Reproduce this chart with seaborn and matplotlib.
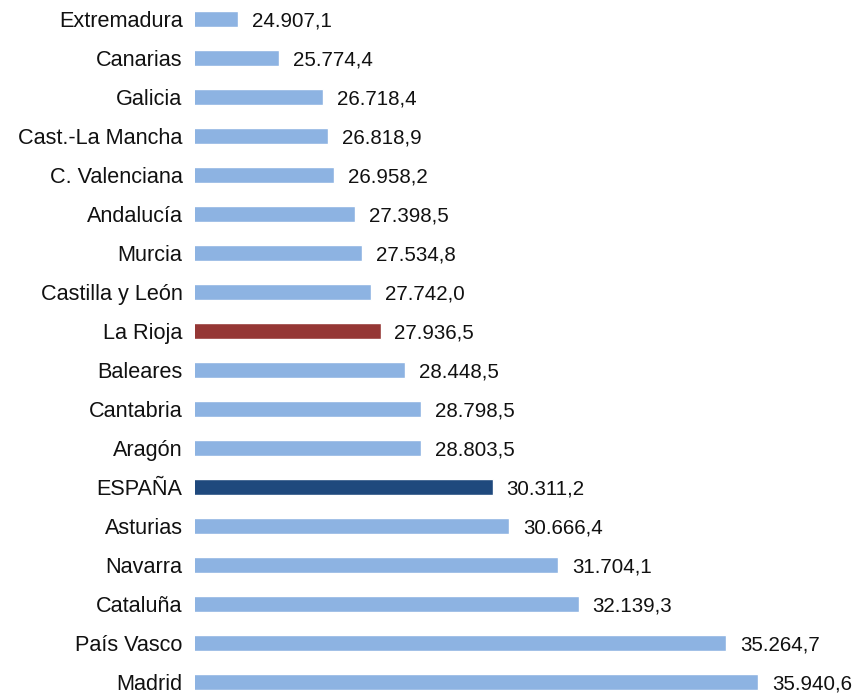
import matplotlib
matplotlib.use("Agg")
import matplotlib.pyplot as plt
import seaborn as sns
import pandas as pd

regions = ["Extremadura", "Canarias", "Galicia", "Cast.-La Mancha", "C. Valenciana",
           "Andalucía", "Murcia", "Castilla y León", "La Rioja", "Baleares", "Cantabria",
           "Aragón", "ESPAÑA", "Asturias", "Navarra", "Cataluña", "País Vasco", "Madrid"]
values = [24907.1, 25774.4, 26718.4, 26818.9, 26958.2, 27398.5, 27534.8, 27742.0,
          27936.5, 28448.5, 28798.5, 28803.5, 30311.2, 30666.4, 31704.1, 32139.3,
          35264.7, 35940.6]

base_color = "#8DB3E2"
highlight = {"La Rioja": "#953735", "ESPAÑA": "#1F497D"}
palette = {r: highlight.get(r, base_color) for r in regions}

df = pd.DataFrame({"region": regions, "value": values})

sns.set_theme(style="white")
plt.rcParams["font.family"] = ["Liberation Sans", "DejaVu Sans"]

fig = plt.figure(figsize=(8.55, 6.94), dpi=100)
ax = fig.add_axes([195 / 855, 0, 660 / 855, 1])

sns.barplot(data=df, y="region", x="value", hue="region", palette=palette,
            order=regions, hue_order=regions, legend=False, width=0.41,
            orient="h", ax=ax, saturation=1)

def fmt(v):
    s = f"{v:,.1f}"
    return s.replace(",", "X").replace(".", ",").replace("X", ".")

for i, v in enumerate(values):
    ax.annotate(fmt(v), xy=(v, i), xytext=(10, -1.5), textcoords="offset points",
                ha="left", va="center", fontsize=14.8, color="#111111")

ax.set_xlim(24000, 38000)
ax.set_ylim(17.30, -0.48)
ax.set_xlabel("")
ax.set_ylabel("")
ax.set_xticks([])
ax.tick_params(axis="y", length=0, pad=9, labelsize=15.6, labelcolor="#111111")
for s in ax.spines.values():
    s.set_visible(False)

fig.savefig("out.png", dpi=100)
